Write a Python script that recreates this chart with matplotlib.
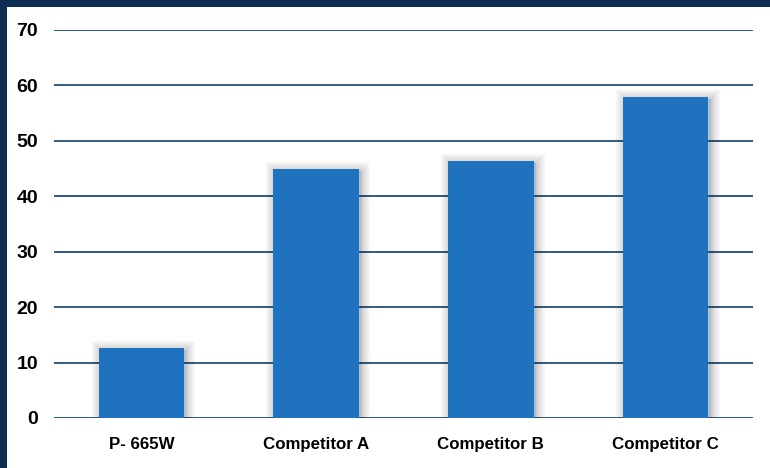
import matplotlib.pyplot as plt
import matplotlib.patheffects as pe
from matplotlib.patches import Rectangle

categories = ["P- 665W", "Competitor A", "Competitor B", "Competitor C"]
values = [12.6, 44.9, 46.4, 57.9]
yticks = [0, 10, 20, 30, 40, 50, 60, 70]

fig = plt.figure(figsize=(7.7, 4.68), dpi=100)
fig.patch.set_facecolor("#0e2d52")
# white panel inside the dark frame
fig.patches.append(Rectangle((7 / 770, 0), 1, 1 - 7 / 468, transform=fig.transFigure,
                             facecolor="white", edgecolor="none", zorder=-5))

ax = fig.add_axes([54 / 770, 1 - 418 / 468, (753 - 54) / 770, (418 - 30) / 468])
ax.set_facecolor("none")
ax.set_zorder(2)

# gridlines
for y in yticks:
    ax.axhline(y, color="#1f4e79", linewidth=1.3, zorder=1)

# soft shadow around bars
shadow = [pe.Stroke(linewidth=w, foreground="#000000", alpha=0.04, offset=(1.5, -1.5))
          for w in (13, 10, 7, 4, 2)] + [pe.Normal()]
bars = ax.bar(range(len(categories)), values, width=0.49, color="#1f72bd",
              edgecolor="none", zorder=3)
for b in bars:
    b.set_path_effects(shadow)

ax.set_xlim(-0.5, 3.5)
ax.set_ylim(0, 70)
ax.set_yticks(yticks)
ax.set_xticks(range(len(categories)))
ax.set_xticklabels(categories)
for s in ax.spines.values():
    s.set_visible(False)
ax.tick_params(axis="y", length=0, pad=11.5, labelsize=14)
ax.tick_params(axis="x", length=0, pad=14, labelsize=12.2)
for lbl in ax.get_xticklabels() + ax.get_yticklabels():
    lbl.set_fontfamily("Liberation Sans")
    lbl.set_fontweight("bold")
    lbl.set_color("black")

fig.savefig("out.png", dpi=100, facecolor=fig.get_facecolor())
